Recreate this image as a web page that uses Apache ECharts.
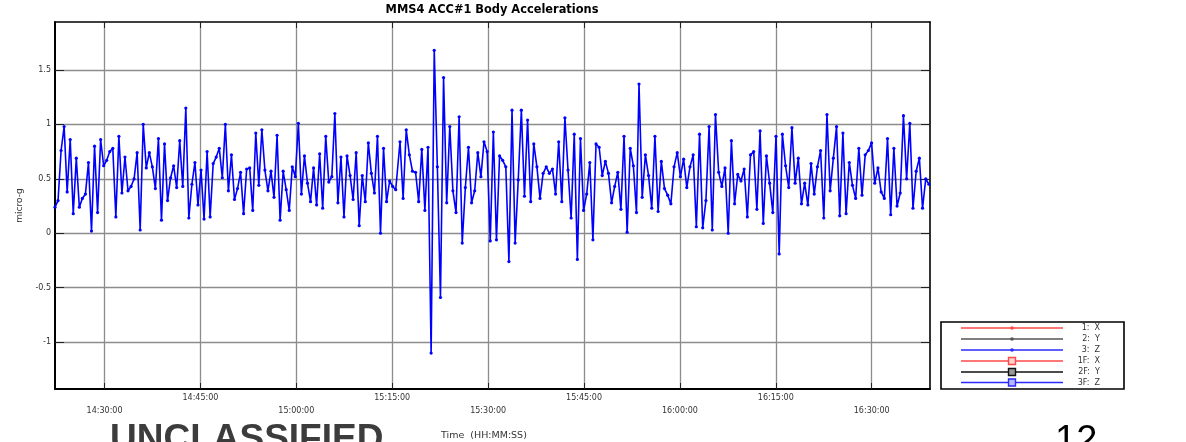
<!DOCTYPE html>
<html>
<head>
<meta charset="utf-8">
<script src="https://cdn.jsdelivr.net/npm/echarts@6/dist/echarts.min.js"></script>
<style>
html,body{margin:0;padding:0;background:#fff;}
#chart{width:1186px;height:442px;}
</style>
</head>
<body>
<div id="chart"></div>
<script>
// ---- DATA ----
var chartTitle = 'MMS4 ACC#1 Body Accelerations';
var yName = 'micro-g';
var xName = 'Time  (HH:MM:SS)';
var xStart = '14:22:15';
var xEnd = '16:39:07';
var xTickTimes = ['14:30:00','14:45:00','15:00:00','15:15:00','15:30:00','15:45:00','16:00:00','16:15:00','16:30:00'];
var yMin = -1.43;
var yMax = 1.94;
var yTicks = [-1, -0.5, 0, 0.5, 1, 1.5];
var legendLabels = ['1:  X','2:  Y','3:  Z','1F:  X','2F:  Y','3F:  Z'];

// Z-axis body acceleration (micro-g) in three stretches
var segAStart = '14:22:15', segAStep = 28.55;
var segA = [0.24,0.30,0.76,0.98,0.38,0.86,0.18,0.69,0.24,0.32,0.36,0.65,0.02,0.80,0.19,0.86,0.62,0.67,0.75,0.78,
0.15,0.89,0.37,0.70,0.39,0.43,0.50,0.74,0.03,1.00,0.60,0.74,0.61,0.41,0.87,0.12,0.82,0.30,0.51,0.62,
0.42,0.85,0.43,1.15,0.14,0.45,0.65,0.26,0.58,0.13,0.75,0.15,0.64,0.70,0.78,0.51,1.00,0.39,0.72,0.31,
0.41,0.56,0.18,0.59,0.60,0.21,0.92,0.44,0.95,0.58,0.39,0.57,0.33,0.90,0.12,0.57,0.40,0.21,0.61,0.52,
1.01,0.36,0.71,0.46,0.29,0.60,0.26,0.73,0.23,0.89,0.47,0.52,1.10,0.28,0.70,0.15,0.71,0.53,0.31,0.74,
0.07,0.53,0.29,0.83,0.55,0.37,0.89,0.00,0.78,0.29,0.48,0.43,0.40];
var segBStart = '15:16:13', segBStep = 29.2;
var segB = [0.84,0.32,0.95,0.72,0.57,0.56,0.29,0.77,0.21,0.79,-1.10,1.68,0.61,-0.59,1.43,0.28,0.98,0.39,0.19,1.07,
-0.09,0.42,0.79,0.28,0.39,0.74,0.52,0.84,0.75,-0.07,0.93,-0.06,0.71,0.67,0.61,-0.26,1.13,-0.09,0.49,1.13,
0.34,1.04,0.29,0.82,0.61,0.32,0.55,0.61,0.55,0.59,0.36,0.84,0.29,1.06,0.58,0.14,0.91,-0.24,0.87,0.21,
0.36,0.65,-0.06,0.82,0.79,0.53,0.66,0.55,0.28,0.43,0.56,0.22,0.89,0.01,0.78,0.62,0.19];
var segCStart = '15:53:36', segCStep = 29.9;
var segC = [1.37,0.33,0.72,0.53,0.23,0.89,0.20,0.66,0.41,0.35,0.27,0.61,0.74,0.52,0.68,0.42,0.61,0.72,0.06,0.91,
0.05,0.30,0.98,0.03,1.09,0.56,0.43,0.60,0.00,0.85,0.27,0.54,0.48,0.59,0.15,0.72,0.75,0.22,0.94,0.09,
0.71,0.46,0.19,0.89,-0.19,0.91,0.62,0.42,0.97,0.46,0.69,0.27,0.46,0.26,0.64,0.36,0.61,0.76,0.14,1.09,
0.39,0.69,0.98,0.16,0.92,0.18,0.65,0.44,0.32,0.78,0.35,0.72,0.76,0.83,0.46,0.60,0.38,0.32,0.87,0.17,
0.78,0.25,0.37,1.08,0.50,1.01,0.23,0.57,0.69,0.23,0.50,0.45];

// ---- helpers ----
function toSec(s){var p=s.split(':');return (+p[0])*3600+(+p[1])*60+(+p[2]);}
function pad(n){return (n<10?'0':'')+n;}
function fmt(sec){sec=Math.round(sec);var h=Math.floor(sec/3600),m=Math.floor((sec%3600)/60),s=sec%60;return pad(h)+':'+pad(m)+':'+pad(s);}
function build(startStr, step, vals){var t0=toSec(startStr);return vals.map(function(v,i){return [t0+i*step, v];});}

var zData = [].concat(build(segAStart,segAStep,segA), build(segBStart,segBStep,segB), build(segCStart,segCStep,segC));
var xTickVals = xTickTimes.map(toSec);
var xMin = toSec(xStart), xMax = toSec(xEnd);

var FONT = 'DejaVu Sans';
var chart = echarts.init(document.getElementById('chart'), null, {renderer:'canvas'});

var legendColors = ['#ff4848','#555555','#2a2aff','#ff4848','#111111','#2a2aff'];
var legendRows = [328,339,350,361,372,382.5];
var gLegend = [{
  type:'rect', shape:{x:941,y:322,width:183,height:67}, style:{fill:'#fff',stroke:'#000',lineWidth:1.6}, z:10
}];
legendRows.forEach(function(yy,i){
  gLegend.push({type:'line', shape:{x1:961,y1:yy,x2:1063,y2:yy}, style:{stroke:legendColors[i],lineWidth:1.4}, z:11});
  if(i<3){
    gLegend.push({type:'circle', shape:{cx:1012,cy:yy,r:1.8}, style:{fill:legendColors[i]}, z:12});
  } else {
    gLegend.push({type:'rect', shape:{x:1008.5,y:yy-3.5,width:7,height:7}, style:{fill:i===3?'#ffd0d0':(i===4?'#999':'#b8b8ff'),stroke:legendColors[i],lineWidth:1.4}, z:12});
  }
  gLegend.push({type:'text', x:1100, y:yy, style:{text:legendLabels[i], font:'8px "'+FONT+'"', fill:'#333', align:'right', verticalAlign:'middle'}, z:12});
});

var option = {
  backgroundColor:'#ffffff',
  animation:false,
  title:{
    text:chartTitle, left:492, textAlign:'center', top:5, padding:0,
    textStyle:{fontFamily:FONT, fontSize:11.4, fontWeight:'bold', color:'#000'}
  },
  grid:{left:55, top:22, width:875, height:367, show:false},
  xAxis:[{
    type:'value', min:xMin, max:xMax, position:'bottom',
    axisLine:{show:true, onZero:false, lineStyle:{color:'#000', width:2}},
    axisTick:{show:true, inside:true, length:6, customValues:xTickVals, lineStyle:{color:'#222', width:1}},
    axisLabel:{show:true, customValues:xTickVals, margin:2, fontFamily:FONT, fontSize:8, color:'#333', lineHeight:13.6,
      formatter:function(v){var k=Math.round((v-xTickVals[0])/900);return (k%2===0?'\n':'')+fmt(v);}},
    splitLine:{show:true, lineStyle:{color:'#8c8c8c', width:1.3}}
  },{
    type:'value', min:xMin, max:xMax, position:'top',
    axisLine:{show:true, onZero:false, lineStyle:{color:'#000', width:1.6}},
    axisTick:{show:true, inside:true, length:6, customValues:xTickVals, lineStyle:{color:'#222', width:1}},
    axisLabel:{show:false}, splitLine:{show:false}
  }],
  yAxis:[{
    type:'value', min:yMin, max:yMax, position:'left',
    name:yName, nameLocation:'middle', nameGap:25, nameRotate:90,
    nameTextStyle:{fontFamily:FONT, fontSize:9, color:'#333'},
    axisLine:{show:true, onZero:false, lineStyle:{color:'#000', width:2}},
    axisTick:{show:true, inside:true, length:9, customValues:yTicks, lineStyle:{color:'#222', width:1}},
    axisLabel:{show:true, customValues:yTicks, margin:4, fontFamily:FONT, fontSize:8, color:'#333',
      formatter:function(v){return String(v);}},
    splitLine:{show:true, lineStyle:{color:'#8c8c8c', width:1.3}}
  },{
    type:'value', min:yMin, max:yMax, position:'right',
    axisLine:{show:true, onZero:false, lineStyle:{color:'#000', width:1.6}},
    axisTick:{show:true, inside:true, length:9, customValues:yTicks, lineStyle:{color:'#222', width:1}},
    axisLabel:{show:false}, splitLine:{show:false}
  }],
  series:[{
    name:'3: Z', type:'line', xAxisIndex:0, yAxisIndex:0, data:zData,
    symbol:'circle', symbolSize:3.2, showSymbol:true,
    lineStyle:{color:'#0000ff', width:1.6},
    itemStyle:{color:'#0000ff'},
    z:5
  }],
  graphic: gLegend.concat([
    {type:'text', x:441, y:436, style:{text:xName, font:'9.5px "'+FONT+'"', fill:'#333', verticalAlign:'middle'}},
    {type:'text', x:110, y:440, style:{text:'UNCLASSIFIED', font:'bold 37px "Liberation Sans"', fill:'#3c3c3c', verticalAlign:'middle'}},
    {type:'text', x:1055, y:442, style:{text:'12', font:'38px "Liberation Sans"', fill:'#000', verticalAlign:'middle'}}
  ])
};
chart.setOption(option);
</script>
</body>
</html>
